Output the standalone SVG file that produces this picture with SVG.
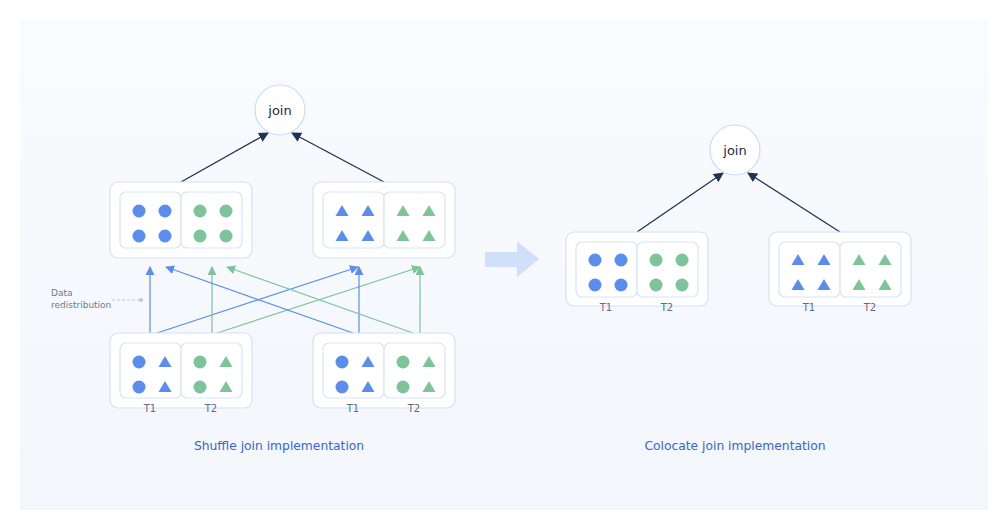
<svg xmlns="http://www.w3.org/2000/svg" width="1008" height="530" viewBox="0 0 1008 530">
<defs>
<linearGradient id="bg" x1="0" y1="0" x2="0" y2="1">
<stop offset="0" stop-color="#f9fbfe"/>
<stop offset="1" stop-color="#f3f6fb"/>
</linearGradient>
<marker id="mDark" viewBox="0 0 10 10" refX="9" refY="5" markerWidth="10" markerHeight="10" markerUnits="userSpaceOnUse" orient="auto">
<path d="M0,0 L10,5 L0,10 z" fill="#1f3358"/>
</marker>
<marker id="mBlue" viewBox="0 0 10 10" refX="9" refY="5" markerWidth="9" markerHeight="9" markerUnits="userSpaceOnUse" orient="auto">
<path d="M0,0 L10,5 L0,10 z" fill="#5b8def"/>
</marker>
<marker id="mGreen" viewBox="0 0 10 10" refX="9" refY="5" markerWidth="9" markerHeight="9" markerUnits="userSpaceOnUse" orient="auto">
<path d="M0,0 L10,5 L0,10 z" fill="#7ec49b"/>
</marker>
<circle id="cb" r="6.5" fill="#5b8def"/>
<circle id="cg" r="6.5" fill="#7ec49b"/>
<path id="tb" d="M0,-6 L6.5,5 L-6.5,5 z" fill="#5b8def"/>
<path id="tg" d="M0,-6 L6.5,5 L-6.5,5 z" fill="#7ec49b"/>
</defs>
<style>
.outer{fill:#ffffff;stroke:#d3e1f5;stroke-width:1.2}
.inner{fill:#ffffff;stroke:#d8e5f7;stroke-width:1.2}
.joinc{fill:#ffffff;stroke:#cbdcf4;stroke-width:1.2}
.jt{font-family:"DejaVu Sans",sans-serif;font-size:13px;fill:#1e2a44;text-anchor:middle}
.lbl{font-family:"DejaVu Sans",sans-serif;font-size:10px;fill:#5f6b80;text-anchor:middle}
.cap{font-family:"DejaVu Sans",sans-serif;font-size:12.3px;fill:#3a65d6;text-anchor:middle}
.note{font-family:"DejaVu Sans",sans-serif;font-size:9px;fill:#6b7a90}
.dk{stroke:#1f3358;stroke-width:1.3;fill:none;marker-end:url(#mDark)}
.bl{stroke:#5b8def;stroke-width:1.2;fill:none;marker-end:url(#mBlue)}
.gr{stroke:#7ec49b;stroke-width:1.2;fill:none;marker-end:url(#mGreen)}
</style>
<rect x="20" y="20" width="968" height="490" fill="url(#bg)"/>

<g id="connectors">
<line class="dk" x1="181" y1="182" x2="268" y2="133"/>
<line class="dk" x1="384" y1="182" x2="292" y2="133"/>
<line class="dk" x1="637" y1="232" x2="723" y2="173"/>
<line class="dk" x1="840" y1="232" x2="748" y2="173"/>
<line class="bl" x1="150" y1="333" x2="150" y2="267"/>
<line class="bl" x1="157" y1="333" x2="358" y2="267"/>
<line class="gr" x1="212" y1="333" x2="212" y2="267"/>
<line class="gr" x1="217" y1="333" x2="420" y2="267"/>
<line class="bl" x1="359" y1="333" x2="359" y2="267"/>
<line class="bl" x1="353" y1="333" x2="166" y2="267"/>
<line class="gr" x1="420" y1="333" x2="420" y2="267"/>
<line class="gr" x1="413" y1="333" x2="227" y2="267"/>
</g>

<g id="note-redistribution">
<text class="note" x="51" y="296">Data</text>
<text class="note" x="51" y="308">redistribution</text>
<line x1="112" y1="300" x2="139" y2="300" stroke="#b5c9e8" stroke-width="1" stroke-dasharray="3,2"/>
<circle cx="141" cy="300" r="2" fill="#b5c9e8"/>
</g>

<g id="join-left">
<circle class="joinc" cx="280" cy="110" r="25"/>
<text class="jt" x="280" y="115">join</text>
</g>

<g id="box-left-top1">
<rect class="outer" x="110" y="182" width="142" height="76" rx="8"/>
<rect class="inner" x="120" y="192" width="61" height="56" rx="6"/>
<rect class="inner" x="181" y="192" width="61" height="56" rx="6"/>
<use href="#cb" x="139" y="211"/><use href="#cb" x="165" y="211"/>
<use href="#cb" x="139" y="236"/><use href="#cb" x="165" y="236"/>
<use href="#cg" x="200" y="211"/><use href="#cg" x="226" y="211"/>
<use href="#cg" x="200" y="236"/><use href="#cg" x="226" y="236"/>
</g>

<g id="box-left-top2">
<rect class="outer" x="313" y="182" width="142" height="76" rx="8"/>
<rect class="inner" x="323" y="192" width="61" height="56" rx="6"/>
<rect class="inner" x="384" y="192" width="61" height="56" rx="6"/>
<use href="#tb" x="342" y="211"/><use href="#tb" x="368" y="211"/>
<use href="#tb" x="342" y="236"/><use href="#tb" x="368" y="236"/>
<use href="#tg" x="403" y="211"/><use href="#tg" x="429" y="211"/>
<use href="#tg" x="403" y="236"/><use href="#tg" x="429" y="236"/>
</g>

<g id="box-left-bottom1">
<rect class="outer" x="110" y="333" width="142" height="75" rx="8"/>
<rect class="inner" x="120" y="343" width="61" height="55" rx="6"/>
<rect class="inner" x="181" y="343" width="61" height="55" rx="6"/>
<use href="#cb" x="139" y="362"/><use href="#tb" x="165" y="362"/>
<use href="#cb" x="139" y="387"/><use href="#tb" x="165" y="387"/>
<use href="#cg" x="200" y="362"/><use href="#tg" x="226" y="362"/>
<use href="#cg" x="200" y="387"/><use href="#tg" x="226" y="387"/>
<text class="lbl" x="150" y="412">T1</text>
<text class="lbl" x="211" y="412">T2</text>
</g>

<g id="box-left-bottom2">
<rect class="outer" x="313" y="333" width="142" height="75" rx="8"/>
<rect class="inner" x="323" y="343" width="61" height="55" rx="6"/>
<rect class="inner" x="384" y="343" width="61" height="55" rx="6"/>
<use href="#cb" x="342" y="362"/><use href="#tb" x="368" y="362"/>
<use href="#cb" x="342" y="387"/><use href="#tb" x="368" y="387"/>
<use href="#cg" x="403" y="362"/><use href="#tg" x="429" y="362"/>
<use href="#cg" x="403" y="387"/><use href="#tg" x="429" y="387"/>
<text class="lbl" x="353" y="412">T1</text>
<text class="lbl" x="414" y="412">T2</text>
</g>

<g id="big-arrow">
<path d="M485,252 L517,252 L517,241 L539,259 L517,277 L517,267 L485,267 z" fill="#cfe0f8"/>
</g>

<g id="join-right">
<circle class="joinc" cx="735" cy="150" r="25"/>
<text class="jt" x="735" y="155">join</text>
</g>

<g id="box-right1">
<rect class="outer" x="566" y="232" width="142" height="74" rx="8"/>
<rect class="inner" x="576" y="242" width="61" height="55" rx="6"/>
<rect class="inner" x="637" y="242" width="61" height="55" rx="6"/>
<use href="#cb" x="595" y="260"/><use href="#cb" x="621" y="260"/>
<use href="#cb" x="595" y="285"/><use href="#cb" x="621" y="285"/>
<use href="#cg" x="656" y="260"/><use href="#cg" x="682" y="260"/>
<use href="#cg" x="656" y="285"/><use href="#cg" x="682" y="285"/>
<text class="lbl" x="606" y="311">T1</text>
<text class="lbl" x="667" y="311">T2</text>
</g>

<g id="box-right2">
<rect class="outer" x="769" y="232" width="142" height="74" rx="8"/>
<rect class="inner" x="779" y="242" width="61" height="55" rx="6"/>
<rect class="inner" x="840" y="242" width="61" height="55" rx="6"/>
<use href="#tb" x="798" y="260"/><use href="#tb" x="824" y="260"/>
<use href="#tb" x="798" y="285"/><use href="#tb" x="824" y="285"/>
<use href="#tg" x="859" y="260"/><use href="#tg" x="885" y="260"/>
<use href="#tg" x="859" y="285"/><use href="#tg" x="885" y="285"/>
<text class="lbl" x="809" y="311">T1</text>
<text class="lbl" x="870" y="311">T2</text>
</g>

<g id="captions">
<text class="cap" x="279" y="450">Shuffle join implementation</text>
<text class="cap" x="735" y="450">Colocate join implementation</text>
</g>
</svg>
